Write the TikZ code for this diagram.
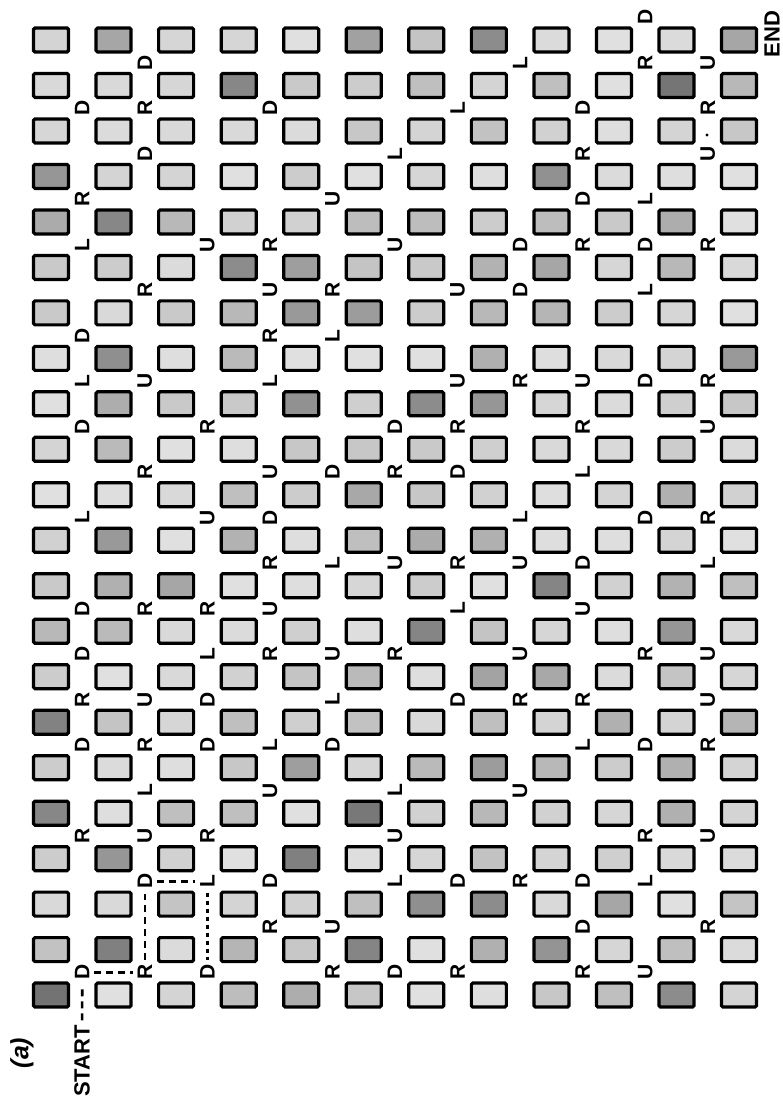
\documentclass[tikz,border=0pt]{standalone}
\usepackage{fontspec}
\newfontfamily\handfont{Liberation Sans}

\begin{document}
\begin{tikzpicture}[x=1pt,y=-1pt,
 cell/.style={draw=black,line width=3.2pt,rounded corners=1.5pt,minimum width=35pt,minimum height=24pt,inner sep=0pt},
 mv/.style={rotate=90,inner sep=1.5pt,font={\handfont\bfseries\fontsize{21}{21}\selectfont}},
 tl/.style={rotate=90,inner sep=1.5pt,font={\handfont\bfseries\fontsize{22}{22}\selectfont}},
 lk/.style={line width=2.6pt,dash pattern=on 7pt off 5pt,shorten <=3pt,shorten >=3pt}]
\useasboundingbox (0,0) rectangle (783,1104);
\pgfmathsetseed{7}
% grid of cells
\foreach \i in {1,...,12}
 \foreach \j in {1,...,22}{
  \pgfmathsetmacro{\g}{int(12+48*rnd*rnd)}
  \node[cell,fill=black!\g] (c-\i-\j) at ({51+62.55*(\i-1)},{40+45.48*(\j-1)}) {};
 }
% moves between the cells
\foreach \a/\b/\t in {10/0/D,
 2/1/D, 8/1/L, 10/1/R, 11/1/U,
 1/2/D, 2/2/R, 4/2/D, 7/2/L, 9/2/D, 11/2/R,
 2/3/D, 6/3/L, 9/3/R, 11/3/U,
 1/4/R, 5/4/U, 9/4/D, 10/4/L,
 1/5/L, 3/5/U, 4/5/R, 6/5/U, 8/5/D, 9/5/R, 10/5/D, 11/5/R,
 2/6/R, 4/6/U, 5/6/R, 7/6/U, 8/6/D, 10/6/L,
 1/7/D, 4/7/R, 5/7/L,
 1/8/L, 2/8/U, 4/8/L, 7/8/U, 8/8/R, 9/8/U, 10/8/D, 11/8/R,
 1/9/D, 3/9/R, 6/9/D, 7/9/R, 9/9/R, 11/9/U,
 2/10/R, 4/10/U, 5/10/D, 6/10/R, 7/10/D, 9/10/L,
 1/11/L, 3/11/U, 4/11/D, 8/11/L, 10/11/D, 11/11/R,
 4/12/R, 5/12/L, 6/12/U, 7/12/R, 8/12/U, 9/12/D, 11/12/L,
 1/13/D, 2/13/R, 3/13/R, 4/13/U, 7/13/L, 9/13/U,
 1/14/D, 3/14/L, 4/14/R, 5/14/U, 6/14/R, 8/14/U, 10/14/R, 11/14/U,
 1/15/R, 2/15/U, 3/15/D, 5/15/L, 7/15/D, 8/15/R, 9/15/R, 11/15/U,
 1/16/D, 2/16/R, 3/16/D, 4/16/L, 5/16/D, 9/16/L, 10/16/D, 11/16/R,
 2/17/L, 4/17/U, 6/17/L, 8/17/U,
 1/18/R, 2/18/U, 3/18/R, 6/18/U, 10/18/R, 11/18/U,
 2/19/D, 3/19/L, 4/19/D, 6/19/L, 7/19/D, 8/19/R, 9/19/D, 10/19/L,
 4/20/R, 5/20/U, 9/20/D, 11/20/R,
 1/21/D, 2/21/R, 3/21/D, 5/21/R, 6/21/D, 7/21/R, 9/21/R, 10/21/U}
  \node[mv] (m-\a-\b) at ({82.27+62.55*(\a-1)},{62.74+45.48*(\b-1)}) {\t};
\node[tl] (start) at (82,1061) {START};
\node[tl] (end) at (772,34) {END};
\node[rotate=90,font={\handfont\bfseries\itshape\fontsize{25}{25}\selectfont}] (tag) at (22,1053) {(a)};
\fill (707,135) circle (1.6pt);
% first steps of the path
\draw[lk] (start) -- (m-1-21);
\draw[lk] (m-1-21) -- (m-2-21);
\draw[lk] (m-2-21) -- (m-2-19);
\draw[lk] (m-2-19) -- (m-3-19);
\draw[lk,dash pattern=on 4pt off 4pt] (m-3-19) -- (m-3-21);
\end{tikzpicture}
\end{document}
